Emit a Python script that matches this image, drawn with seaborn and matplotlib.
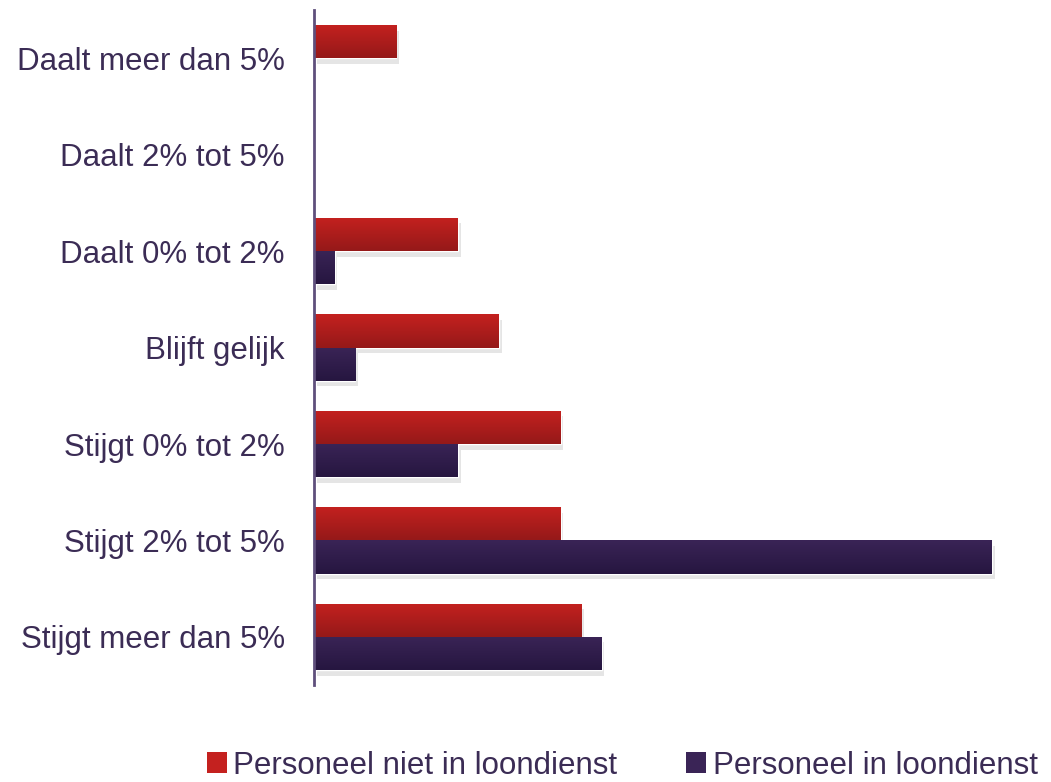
import numpy as np
import pandas as pd
import matplotlib
matplotlib.use("Agg")
import matplotlib.pyplot as plt
import matplotlib.patheffects as pe
from matplotlib.colors import to_rgb
from matplotlib.patches import Patch
import seaborn as sns

# categorieen (van boven naar beneden)
categorieen = ["Daalt meer dan 5%", "Daalt 2% tot 5%", "Daalt 0% tot 2%",
               "Blijft gelijk", "Stijgt 0% tot 2%", "Stijgt 2% tot 5%",
               "Stijgt meer dan 5%"]
series = ["Personeel niet in loondienst", "Personeel in loondienst"]
niet_in_loondienst = [4, 0, 7, 9, 12, 12, 13]
in_loondienst = [0, 0, 1, 2, 7, 33, 14]

# kleuren: boven / onder van de verloop
kleur_boven = {series[0]: "#c4211f", series[1]: "#3a2456"}
kleur_onder = {series[0]: "#951919", series[1]: "#261640"}
tekstkleur = "#3b2c55"

df = pd.DataFrame({
    "Categorie": categorieen * 2,
    "Serie": [series[0]] * len(categorieen) + [series[1]] * len(categorieen),
    "Aantal": niet_in_loondienst + in_loondienst,
})

sns.set_style("white")
plt.rcParams["font.family"] = ["Liberation Sans", "DejaVu Sans"]

fig = plt.figure(figsize=(10.51, 7.82), dpi=100)
ax = fig.add_axes([0.2988, 0.124, 0.684, 0.863])

sns.barplot(data=df, y="Categorie", x="Aantal", hue="Serie", order=categorieen,
            hue_order=series, orient="h", width=0.69, ax=ax, legend=False,
            palette=[kleur_boven[s] for s in series], saturation=1)

ax.set_xlim(0, 35)
ax.set_ylim(6.5, -0.5)

# verloop + schaduw per balk
for patch in ax.patches:
    w = patch.get_width()
    if w <= 0:
        continue
    x0, y0, h = patch.get_x(), patch.get_y(), patch.get_height()
    fc = patch.get_facecolor()[:3]
    serie = min(series, key=lambda s: np.sum((np.array(to_rgb(kleur_boven[s])) - np.array(fc)) ** 2))
    top = np.array(to_rgb(kleur_boven[serie]))
    bot = np.array(to_rgb(kleur_onder[serie]))
    t = np.linspace(0, 1, 64)[:, None]
    img = (top * (1 - t) + bot * t)[:, None, :]
    patch.set_path_effects([pe.SimplePatchShadow(offset=(2, -4), shadow_rgbFace=(0.6, 0.6, 0.6), alpha=0.25),
                            pe.Normal()])
    im = ax.imshow(img, extent=(x0, x0 + w, y0 + h, y0), origin="upper",
                   aspect="auto", zorder=patch.get_zorder() + 0.1, interpolation="bilinear")
    im.set_clip_path(patch)

ax.set_xlim(0, 35)
ax.set_ylim(6.5, -0.5)

for s in ["top", "right", "bottom"]:
    ax.spines[s].set_visible(False)
ax.spines["left"].set_color("#5f4f7c")
ax.spines["left"].set_linewidth(2)
ax.set_xticks([])
ax.set_xlabel("")
ax.set_ylabel("")
ax.tick_params(axis="y", length=0, pad=21, labelsize=22.5, labelcolor=tekstkleur)

handles = [Patch(facecolor=kleur_boven[s], edgecolor="none") for s in series]
fig.legend(handles, series, loc="center", bbox_to_anchor=(0.592, 0.021), ncol=2,
           frameon=False, fontsize=22.5, labelcolor=tekstkleur,
           handlelength=0.65, handleheight=0.65, handletextpad=0.2, columnspacing=2.2)

fig.savefig("out.png", dpi=100)
